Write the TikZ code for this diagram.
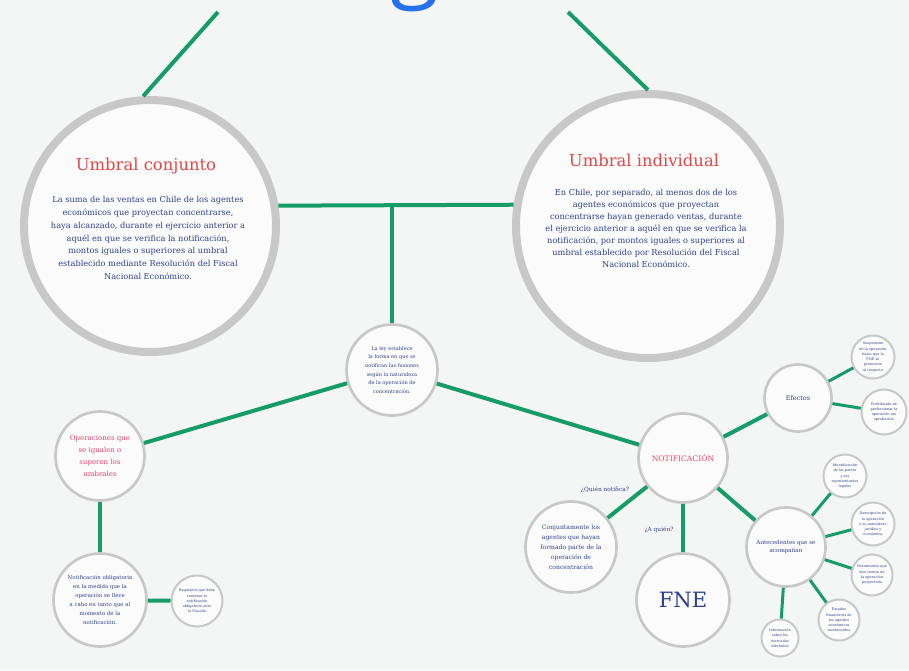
\documentclass[tikz,border=0pt]{standalone}
\usepackage{fontspec}
\setmainfont{DejaVu Serif}
\newfontfamily\titlefont{Open Sans}
\usetikzlibrary{positioning}
\definecolor{bggray}{RGB}{244,245,245}
\definecolor{ringgray}{RGB}{200,200,200}
\definecolor{edgegreen}{RGB}{22,156,104}
\definecolor{titlered}{RGB}{222,72,72}
\definecolor{notepink}{RGB}{230,70,105}
\definecolor{inknavy}{RGB}{45,65,140}
\definecolor{titleblue}{RGB}{38,112,235}

\begin{document}
\begin{tikzpicture}[
  x=0.3mm, y=-0.3mm,
  bubble/.style={circle, draw=ringgray, line width=0.8mm, fill=white!60!bggray, inner sep=0pt, align=center, text=inknavy},
  bigbubble/.style={bubble, line width=2.4mm},
  leaf/.style={bubble, line width=0.6mm, font=\fontsize{3}{4.5}\selectfont},
  link/.style={draw=edgegreen, line width=1.2mm},
  twig/.style={draw=edgegreen, line width=0.9mm},
  headtext/.style={font=\fontsize{14}{16}\selectfont, text=titlered},
  bodytext/.style={font=\fontsize{7}{11}\selectfont, text=inknavy, align=center},
  asktext/.style={font=\fontsize{5}{6}\selectfont, text=inknavy}
]

  \useasboundingbox (0,0) rectangle (909,670);
  \clip (0,0) rectangle (909,670);
  \fill[bggray] (0,0) rectangle (909,670);

  \node[anchor=base, text=titleblue, font=\titlefont\fontsize{76}{76}\selectfont] (titulo) at (415,-9) {g};
  \coordinate (topL) at (218,12);
  \coordinate (topR) at (568,12);
  \coordinate (hub) at (392,205);

  \node[bigbubble, minimum size=75.6mm] (conj) at (150,226) {};
  \node[bigbubble, minimum size=79.2mm] (indiv) at (648,226) {};
  \node[headtext] (conjT) at (146,166) {Umbral conjunto};
  \node[headtext] (indivT) at (644,160) {Umbral individual};
  \node[bodytext, anchor=north] (conjB) at (148,192) {La suma de las ventas en Chile de los agentes\\
    económicos que proyectan concentrarse,\\
    haya alcanzado, durante el ejercicio anterior a\\
    aquél en que se verifica la notificación,\\
    montos iguales o superiores al umbral\\
    establecido mediante Resolución del Fiscal\\
    Nacional Económico.};
  \node[bodytext, anchor=north, font=\fontsize{7}{10.2}\selectfont] (indivB) at (646,185) {En Chile, por separado, al menos dos de los\\
    agentes económicos que proyectan\\
    concentrarse hayan generado ventas, durante\\
    el ejercicio anterior a aquél en que se verifica la\\
    notificación, por montos iguales o superiores al\\
    umbral establecido por Resolución del Fiscal\\
    Nacional Económico.};

  \node[bubble, minimum size=27.3mm, font=\fontsize{4.3}{7.4}\selectfont] (centro) at (392,370) {La ley establece\\la forma en que se\\notifican las fusiones\\según la naturaleza\\de la operación de\\concentración.};
  \node[bubble, minimum size=26.7mm, text=notepink, font=\fontsize{6}{10}\selectfont] (oper) at (100,456) {Operaciones que\\se igualen o\\superen los\\umbrales};
  \node[bubble, minimum size=27.9mm, font=\fontsize{4.6}{7.7}\selectfont] (oblig) at (100,600) {Notificación obligatoria\\en la medida que la\\operación se lleve\\a cabo en tanto que al\\momento de la\\notificación.};
  \node[leaf, minimum size=15.3mm] (req) at (197,601) {Requisitos que debe\\contener la\\notificación\\obligatoria ante\\la Fiscalía};

  \node[bubble, minimum size=26.7mm, text=notepink, font=\fontsize{6.5}{8}\selectfont] (notif) at (683,458) {NOTIFICACIÓN};
  \node[bubble, minimum size=20.1mm, font=\fontsize{5.5}{7}\selectfont] (efectos) at (798,398) {Efectos};
  \node[leaf, minimum size=12.9mm] (ef1) at (873,357) {Suspensión\\de la operación\\hasta que la\\FNE se\\pronuncie\\al respecto};
  \node[leaf, minimum size=13.5mm] (ef2) at (884,412) {Prohibición de\\perfeccionar la\\operación sin\\aprobación};

  \node[bubble, minimum size=27.3mm, font=\fontsize{5.2}{8.5}\selectfont] (agentes) at (571,547) {Conjuntamente los\\agentes que hayan\\formado parte de la\\operación de\\concentración};
  \node[bubble, minimum size=27.9mm, font=\fontsize{18}{20}\selectfont] (fne) at (683,600) {FNE};
  \node[bubble, minimum size=23.7mm, font=\fontsize{4.8}{7}\selectfont] (antec) at (786,547) {Antecedentes que se\\acompañan};
  \node[leaf, minimum size=12.9mm] (an1) at (845,476) {Identificación\\de las partes\\y sus\\representantes\\legales};
  \node[leaf, minimum size=12.9mm] (an2) at (873,524) {Descripción de\\la operación\\y su naturaleza\\jurídica y\\económica};
  \node[leaf, minimum size=12.3mm] (an3) at (872,575) {Documentos que\\den cuenta de\\la operación\\proyectada};
  \node[leaf, minimum size=12.3mm] (an4) at (839,620) {Estados\\financieros de\\los agentes\\económicos\\involucrados};
  \node[leaf, minimum size=11.1mm] (an5) at (780,638) {Información\\sobre los\\mercados\\afectados};

  \node[asktext] (quien) at (605,490) {¿Quién notifica?};
  \node[asktext] (aquien) at (659,530) {¿A quién?};

  \draw[link] (topL) -- (conj.93);
  \draw[link] (topR) -- (indiv.90);
  \draw[link] (conj.9) -- (indiv.171);
  \draw[link] (hub) -- (centro);
  \draw[link] (centro) -- (oper);
  \draw[link] (centro) -- (notif);
  \draw[link] (oper) -- (oblig);
  \draw[link] (oblig) -- (req);
  \foreach \t in {efectos,agentes,fne,antec}
    \draw[link] (notif) -- (\t);
  \foreach \t in {ef1,ef2}
    \draw[twig] (efectos) -- (\t);
  \foreach \t in {an1,an2,an3,an4,an5}
    \draw[twig] (antec) -- (\t);

\end{tikzpicture}
\end{document}
